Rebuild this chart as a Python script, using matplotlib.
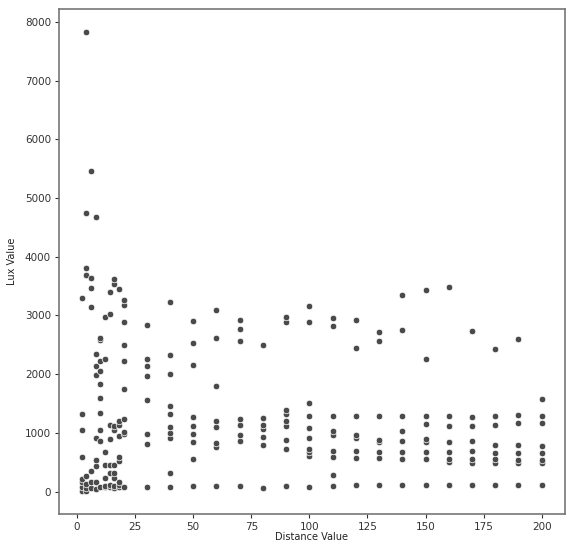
import numpy as np
import matplotlib
matplotlib.use("Agg")
import matplotlib.pyplot as plt

# lux readings per distance
lux_2 = [6, 74, 160, 217, 598, 1043, 1316, 3293]
lux_4 = [17, 60, 131, 274, 3681, 3806, 4750, 7824]
lux_6 = [57, 171, 348, 3140, 3476, 3635, 5460]
lux_8 = [46, 171, 444, 541, 912, 1994, 2137, 2342, 4670]
lux_10 = [85, 855, 1054, 1333, 1590, 1835, 2051, 2228, 2581, 2621]
lux_12 = [74, 103, 234, 450, 678, 2262, 2980]
lux_14 = [74, 114, 325, 450, 900, 1128, 3026, 3407]
lux_16 = [57, 103, 234, 319, 450, 1043, 1117, 3538, 3624]
lux_18 = [74, 114, 171, 513, 587, 946, 1128, 1202, 3447]
lux_20 = [74, 986, 1020, 1236, 1755, 2222, 2501, 2883, 3180, 3265]
lux_30 = [74, 809, 974, 1556, 1977, 2137, 2262, 2838]
lux_40 = [74, 325, 917, 997, 1100, 1316, 1453, 2011, 2325, 3231]
lux_50 = [91, 547, 838, 986, 1111, 1271, 2154, 2536, 2900]
lux_60 = [91, 758, 826, 1105, 1208, 1806, 2610, 3088]
lux_70 = [91, 855, 969, 1134, 1236, 2570, 2775, 2917]
lux_80 = [57, 786, 929, 1060, 1128, 1254, 2501]
lux_90 = [91, 724, 883, 1117, 1202, 1316, 1385, 2883, 2969]
lux_100 = [74, 610, 667, 718, 917, 1088, 1293, 1504, 2883, 3168]
lux_110 = [103, 285, 598, 695, 963, 1026, 1293, 2821, 2952]
lux_120 = [108, 581, 689, 917, 969, 1293, 2439, 2917]
lux_130 = [108, 581, 678, 843, 883, 1293, 2570, 2712]
lux_140 = [108, 564, 678, 866, 1026, 1282, 2758, 3345]
lux_150 = [108, 564, 678, 849, 889, 1151, 1282, 2262, 3442]
lux_160 = [108, 507, 564, 678, 838, 1123, 1282, 3487]
lux_170 = [108, 490, 553, 695, 866, 1123, 1271, 2741]
lux_180 = [108, 490, 553, 661, 792, 1140, 1282, 2422]
lux_190 = [108, 490, 541, 661, 792, 1168, 1299, 2598]
lux_200 = [108, 484, 536, 661, 769, 1168, 1282, 1584]

distances = [2, 4, 6, 8, 10, 12, 14, 16, 18, 20, 30, 40, 50, 60, 70, 80,
             90, 100, 110, 120, 130, 140, 150, 160, 170, 180, 190, 200]
groups = [lux_2, lux_4, lux_6, lux_8, lux_10, lux_12, lux_14, lux_16, lux_18,
          lux_20, lux_30, lux_40, lux_50, lux_60, lux_70, lux_80, lux_90,
          lux_100, lux_110, lux_120, lux_130, lux_140, lux_150, lux_160,
          lux_170, lux_180, lux_190, lux_200]

x = np.concatenate([[d] * len(g) for d, g in zip(distances, groups)])
y = np.concatenate(groups)

fig = plt.figure(figsize=(5.66, 5.43), dpi=100)
ax = fig.add_axes([0.1037, 0.053, 0.894, 0.930])
ax.scatter(x, y, s=22, color="#4a4a4a", edgecolors="white", linewidths=0.5, zorder=3)

ax.set_yticks(range(0, 9000, 1000))
ax.set_xticks(range(0, 201, 25))
ax.margins(0.05)
ax.tick_params(labelsize=7.5, colors="#333333", length=3, width=0.8, pad=2.5)
for s in ax.spines.values():
    s.set_color("#777777")
    s.set_linewidth(1.2)
ax.set_xlabel("Distance Value", fontsize=7, labelpad=0, color="#222222")
ax.set_ylabel("Lux Value", fontsize=7, labelpad=6, color="#222222")

fig.savefig("out.png", dpi=100)
